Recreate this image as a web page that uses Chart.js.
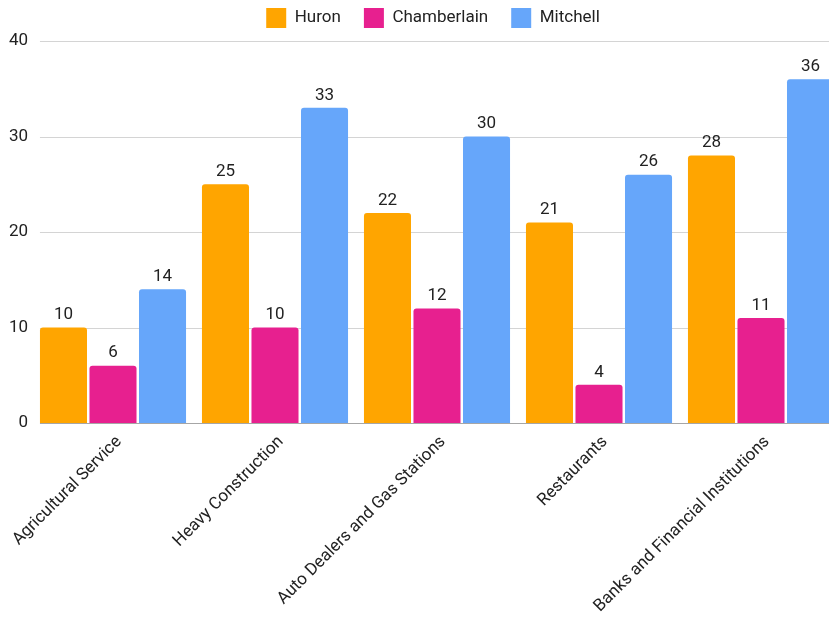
<!DOCTYPE html>
<html>
<head>
<meta charset="utf-8">
<script src="https://cdn.jsdelivr.net/npm/chart.js@4/dist/chart.umd.min.js"></script>
<style>
  html, body { margin: 0; padding: 0; background: #fff; overflow: hidden; }
  #wrap { width: 829px; height: 617px; overflow: hidden; position: relative; }
  #wrap canvas { position: absolute; left: 0; top: 0; }
</style>
</head>
<body>
<div id="wrap"><canvas id="c" width="867" height="617" style="width:867px;height:617px"></canvas></div>
<script>
const categories = ["Agricultural Service", "Heavy Construction", "Auto Dealers and Gas Stations", "Restaurants", "Banks and Financial Institutions"];
const seriesNames = ["Huron", "Chamberlain", "Mitchell"];
const huron = [10, 25, 22, 21, 28];
const chamberlain = [6, 10, 12, 4, 11];
const mitchell = [14, 33, 30, 26, 36];
const yTicks = [0, 10, 20, 30, 40];
const colors = ["#ffa500", "#e7208f", "#66a6fa"];

const FONT = "Roboto, Inter, 'Open Sans', sans-serif";

const legendTweakPlugin = {
  id: 'legendTweak',
  beforeLayout(chart) {
    const lg = chart.legend;
    if (lg && !lg._gapPatched) {
      const origFit = lg.fit;
      lg.fit = function () { origFit.call(this); this.height += 3; };
      lg._gapPatched = true;
    }
  },
  afterLayout(chart) {
    if (chart.legend) { chart.legend.left += 24; }
  }
};

const gridPlugin = {
  id: 'customGrid',
  beforeDatasetsDraw(chart) {
    const ctx = chart.ctx;
    const y = chart.scales.y;
    const area = chart.chartArea;
    const firstBar = chart.getDatasetMeta(0).data[0];
    const left = firstBar.x - firstBar.width / 2;
    ctx.save();
    yTicks.forEach(t => {
      const py = Math.round(y.getPixelForValue(t)) + 0.5;
      ctx.beginPath();
      ctx.strokeStyle = t === 0 ? '#a6a6a6' : '#d4d4d4';
      ctx.lineWidth = 1;
      ctx.moveTo(left, py);
      ctx.lineTo(area.right, py);
      ctx.stroke();
    });
    ctx.restore();
  }
};

const valuePlugin = {
  id: 'valueLabels',
  afterDatasetsDraw(chart) {
    const ctx = chart.ctx;
    ctx.save();
    ctx.font = "17px " + FONT;
    ctx.fillStyle = '#222';
    ctx.textAlign = 'center';
    ctx.textBaseline = 'bottom';
    chart.data.datasets.forEach((ds, i) => {
      chart.getDatasetMeta(i).data.forEach((bar, j) => {
        ctx.fillText(String(ds.data[j]), bar.x, bar.y - 4);
      });
    });
    ctx.restore();
  }
};

new Chart(document.getElementById('c'), {
  type: 'bar',
  data: {
    labels: categories,
    datasets: [
      { label: seriesNames[0], data: huron, backgroundColor: colors[0] },
      { label: seriesNames[1], data: chamberlain, backgroundColor: colors[1] },
      { label: seriesNames[2], data: mitchell, backgroundColor: colors[2] }
    ]
  },
  options: {
    responsive: false,
    animation: false,
    devicePixelRatio: 1,
    layout: { padding: { top: -15, right: 25, left: 0, bottom: 0 } },
    datasets: {
      bar: {
        categoryPercentage: 0.917,
        barPercentage: 0.95,
        borderRadius: { topLeft: 3, topRight: 3, bottomLeft: 0, bottomRight: 0 },
        borderSkipped: 'bottom'
      }
    },
    plugins: {
      legend: {
        position: 'top',
        labels: {
          boxWidth: 20,
          boxHeight: 20,
          padding: 23,
          color: '#222',
          font: { family: FONT, size: 17 }
        }
      },
      tooltip: { enabled: false }
    },
    scales: {
      x: {
        offset: true,
        grid: { display: false, drawTicks: false },
        border: { display: false },
        ticks: {
          autoSkip: false,
          minRotation: 45,
          maxRotation: 45,
          color: '#222',
          padding: 9,
          labelOffset: 6,
          font: { family: FONT, size: 17 }
        },
        afterFit(s) { s.height = 194; s.paddingLeft = 0; s.paddingRight = 0; }
      },
      y: {
        min: 0,
        max: 40,
        grid: { display: false, drawTicks: false },
        border: { display: false },
        afterBuildTicks(s) { s.ticks = yTicks.map(v => ({ value: v })); },
        ticks: {
          color: '#222',
          padding: 4,
          font: { family: FONT, size: 17 }
        },
        afterFit(s) { s.width = 32; }
      }
    }
  },
  plugins: [legendTweakPlugin, gridPlugin, valuePlugin]
});
</script>
</body>
</html>
